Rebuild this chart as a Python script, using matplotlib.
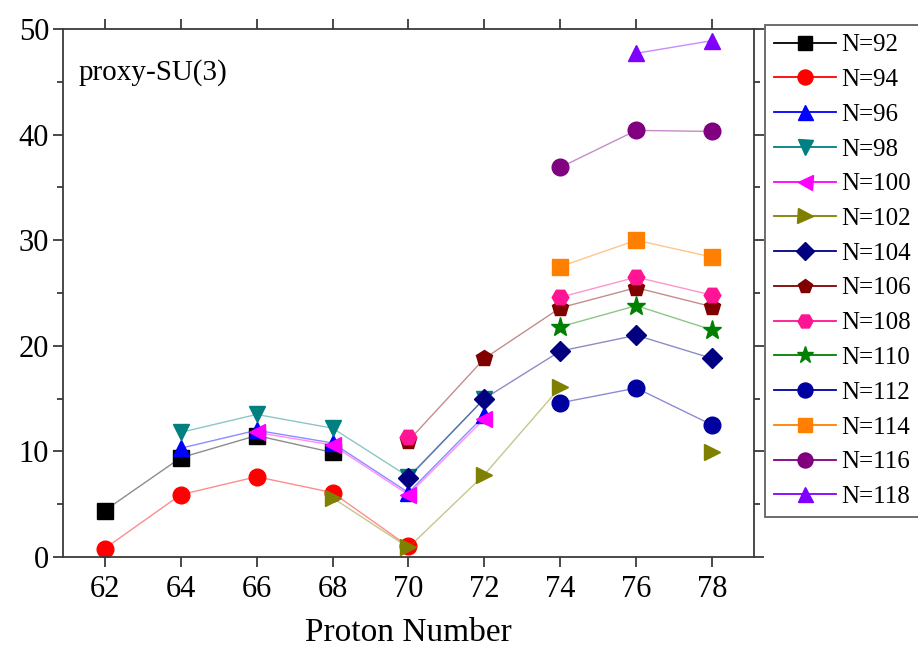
"""
proxy-SU(3) values vs proton number for the N=92..118 isotone chains.
"""
import numpy as np
import matplotlib
matplotlib.use('Agg')
import matplotlib.pyplot as plt
from matplotlib import rcParams
from matplotlib.lines import Line2D
from matplotlib.ticker import MultipleLocator

rcParams['font.family'] = ['Liberation Serif', 'DejaVu Serif']
rcParams['mathtext.fontset'] = 'stix'
rcParams['xtick.direction'] = 'out'
rcParams['ytick.direction'] = 'out'
rcParams['axes.linewidth'] = 1.3
rcParams['axes.edgecolor'] = '#3a3a3a'

nan = np.nan
Z = [62, 64, 66, 68, 70, 72, 74, 76, 78]

n92  = [4.4, 9.4, 11.5, 9.9, nan, nan, nan, nan, nan]
n94  = [0.8, 5.9, 7.6, 6.1, 1.0, nan, nan, nan, nan]
n96  = [nan, 10.3, 12.0, 10.8, 6.1, 13.4, nan, nan, nan]
n98  = [nan, 11.8, 13.5, 12.2, 7.6, 15.0, nan, nan, nan]
n100 = [nan, nan, 11.8, 10.6, 5.9, 13.1, nan, nan, nan]
n102 = [nan, nan, nan, 5.6, 0.9, 7.8, 16.1, nan, 9.9]
n104 = [nan, nan, nan, nan, 7.5, 15.0, 19.5, 21.0, 18.8]
n106 = [nan, nan, nan, nan, 11.0, 18.8, 23.6, 25.5, 23.7]
n108 = [nan, nan, nan, nan, 11.4, nan, 24.6, 26.5, 24.8]
n110 = [nan, nan, nan, nan, nan, nan, 21.8, 23.8, 21.5]
n112 = [nan, nan, nan, nan, nan, nan, 14.6, 16.0, 12.5]
n114 = [nan, nan, nan, nan, nan, nan, 27.5, 30.0, 28.4]
n116 = [nan, nan, nan, nan, nan, nan, 36.9, 40.4, 40.3]
n118 = [nan, nan, nan, nan, nan, nan, nan, 47.7, 48.9]

series = [
    ('N=92',  n92,  's', '#000000', 11),
    ('N=94',  n94,  'o', '#ff0000', 12),
    ('N=96',  n96,  '^', '#0000ff', 12),
    ('N=98',  n98,  'v', '#008080', 12),
    ('N=100', n100, '<', '#ff00ff', 12),
    ('N=102', n102, '>', '#808000', 12),
    ('N=104', n104, 'D', '#000080', 10),
    ('N=106', n106, 'p', '#800000', 12),
    ('N=108', n108, 'H', '#ff1493', 12),
    ('N=110', n110, '*', '#008000', 14),
    ('N=112', n112, 'o', '#0000a0', 12),
    ('N=114', n114, 's', '#ff8000', 11),
    ('N=116', n116, 'o', '#800080', 12),
    ('N=118', n118, '^', '#8000ff', 12),
]

fig = plt.figure(figsize=(9.18, 6.58), dpi=100)
ax = fig.add_axes([0.0686, 0.1535, 0.7527, 0.8024])

handles = []
for label, vals, m, c, ms in series:
    y = np.array(vals, dtype=float)
    # connecting lines are drawn faint, markers on top in full colour
    ax.plot(Z, y, color=c, lw=1.0, alpha=0.45)
    ax.plot(Z, y, ls='none', marker=m, ms=ms, color=c, mec=c)
    handles.append(Line2D([], [], color=c, lw=1.3, marker=m, ms=ms * 0.9, mec=c))

ax.set_xlim(60.9, 79.1)
ax.set_ylim(0, 50)
ax.set_xticks(Z)
ax.yaxis.set_major_locator(MultipleLocator(10))
ax.yaxis.set_minor_locator(MultipleLocator(5))
ax.tick_params(axis='both', which='major', length=7, width=1.3, labelsize=22,
               top=True, right=True, color='#3a3a3a')
ax.tick_params(axis='y', which='minor', length=4, width=1.3, right=True, color='#3a3a3a')
ax.tick_params(axis='x', pad=6)
ax.tick_params(axis='y', pad=3)

ax.set_xlabel('Proton Number', fontsize=24, labelpad=10)
ax.text(0.022, 0.918, 'proxy-SU(3)', transform=ax.transAxes, fontsize=21,
        ha='left', va='center')

leg = fig.legend(handles, [s[0] for s in series], loc='upper left',
                 bbox_to_anchor=(765 / 918, 1 - 25 / 658), bbox_transform=fig.transFigure,
                 fontsize=18, frameon=True, fancybox=False, edgecolor='#3a3a3a',
                 handlelength=2.5, handletextpad=0.2, labelspacing=0.49,
                 borderpad=0.35, borderaxespad=0)
leg.get_frame().set_linewidth(1.3)

fig.savefig('out.png', dpi=100)
plt.close(fig)
print('[OK] out.png')
